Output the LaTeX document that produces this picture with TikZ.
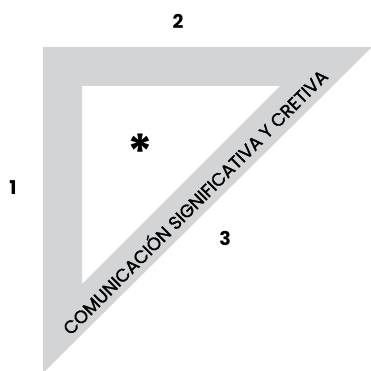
\documentclass[tikz,border=0pt]{standalone}
\usepackage{fontspec}
\setmainfont{Poppins}
\newfontfamily\bandfont{Poppins}[FakeBold=1.6]
\definecolor{squaregray}{RGB}{211,212,214}
\begin{document}
\begin{tikzpicture}[x=1pt,y=-1pt,
  numlabel/.style={font=\fontsize{19}{19}\selectfont\bfseries, inner sep=0pt},
  bandtext/.style={font=\bandfont\fontsize{18}{18}\selectfont, inner sep=0pt, rotate=45}]
\useasboundingbox (0,0) rectangle (371,371);
\clip (0,0) rectangle (371,371);
% set square with triangular cut-out
\fill[squaregray, even odd rule]
  (43,47) -- (372,47) -- (43,373) -- cycle
  (82,86) -- (280,86) -- (82,284) -- cycle;
\node[bandtext] (band) at (194,201) {COMUNICACIÓN SIGNIFICATIVA Y CRETIVA};
\node[numlabel] (one) at (13,188) {1};
\node[numlabel] (two) at (178,21) {2};
\node[numlabel] (three) at (225,238) {3};
\node[font=\fontsize{48}{48}\selectfont\bfseries, inner sep=0pt, anchor=north] (star) at (140,134) {*};
\end{tikzpicture}
\end{document}
